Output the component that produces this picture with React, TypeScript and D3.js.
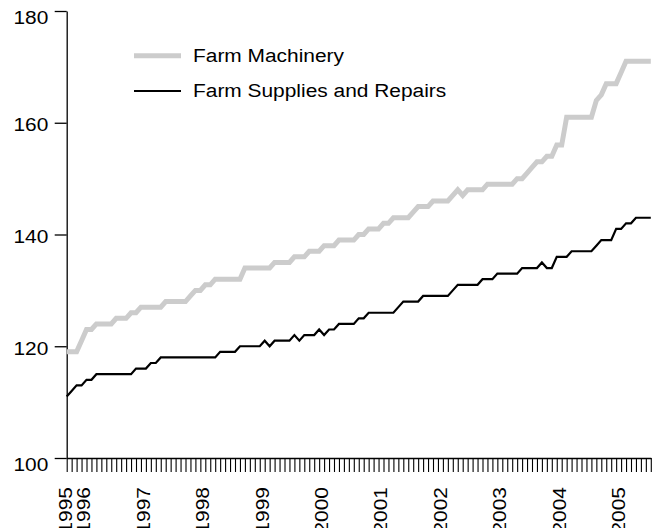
import React, { useEffect, useRef } from 'react';
import * as d3 from 'd3';

// monthly index values, Oct 1995 .. Aug 2005
const months = d3.timeMonth.range(new Date(1995, 9, 1), new Date(2005, 8, 1));

const machinery = [
  119, 119, 119, 121, 123, 123, 124, 124, 124, 124,
  125, 125, 125, 126, 126, 127, 127, 127, 127, 127,
  128, 128, 128, 128, 128, 129, 130, 130, 131, 131,
  132, 132, 132, 132, 132, 132, 134, 134, 134, 134,
  134, 134, 135, 135, 135, 135, 136, 136, 136, 137,
  137, 137, 138, 138, 138, 139, 139, 139, 139, 140,
  140, 141, 141, 141, 142, 142, 143, 143, 143, 143,
  144, 145, 145, 145, 146, 146, 146, 146, 147, 148,
  147, 148, 148, 148, 148, 149, 149, 149, 149, 149,
  149, 150, 150, 151, 152, 153, 153, 154, 154, 156,
  156, 161, 161, 161, 161, 161, 161, 164, 165, 167,
  167, 167, 169, 171, 171, 171, 171, 171, 171,
];

const supplies = [
  111, 112, 113, 113, 114, 114, 115, 115, 115, 115,
  115, 115, 115, 115, 116, 116, 116, 117, 117, 118,
  118, 118, 118, 118, 118, 118, 118, 118, 118, 118,
  118, 119, 119, 119, 119, 120, 120, 120, 120, 120,
  121, 120, 121, 121, 121, 121, 122, 121, 122, 122,
  122, 123, 122, 123, 123, 124, 124, 124, 124, 125,
  125, 126, 126, 126, 126, 126, 126, 127, 128, 128,
  128, 128, 129, 129, 129, 129, 129, 129, 130, 131,
  131, 131, 131, 131, 132, 132, 132, 133, 133, 133,
  133, 133, 134, 134, 134, 134, 135, 134, 134, 136,
  136, 136, 137, 137, 137, 137, 137, 138, 139, 139,
  139, 141, 141, 142, 142, 143, 143, 143, 143,
];

const yTicks = [100, 120, 140, 160, 180];
const seriesNames = ['Farm Machinery', 'Farm Supplies and Repairs'];
const seriesColors = ['#cccccc', '#000000'];
const seriesWidths = [5, 2.2];

const W = 659;
const H = 528;
const FONT = '"Liberation Sans", Arial, Helvetica, sans-serif';
const FS = 19;
const STRETCH = 1.1;

const App = () => {
  const svgRef = useRef<SVGSVGElement>(null);

  useEffect(() => {
    const svg = d3.select(svgRef.current);
    svg.selectAll('*').remove();

    const x = d3.scalePoint<number>()
      .domain(d3.range(months.length))
      .range([66.7, 650.8]);
    const y = d3.scaleLinear().domain([100, 180]).range([458, 11]);

    // y axis
    const yAxis = svg.append('g')
      .attr('transform', 'translate(66.7,0)')
      .call(d3.axisLeft(y).tickValues(yTicks).tickSize(12).tickSizeOuter(0).tickFormat(() => ''));
    yAxis.select('.domain').attr('stroke', '#000').attr('stroke-width', 1.3);
    yAxis.selectAll('.tick line').attr('stroke', '#000').attr('stroke-width', 1.3);

    yTicks.forEach((t, i) => {
      const off = i === 0 || i === yTicks.length - 1 ? 6.5 : 1.5;
      svg.append('text')
        .attr('transform', `translate(48.3,${y(t) + off}) scale(${STRETCH},1)`)
        .attr('text-anchor', 'end')
        .attr('dy', '0.36em')
        .attr('font-family', FONT)
        .attr('font-size', FS)
        .attr('fill', '#000')
        .text(String(t));
    });

    // x axis
    const xAxis = svg.append('g')
      .attr('transform', 'translate(0,458)')
      .call(d3.axisBottom(x).tickSize(14).tickSizeOuter(0).tickFormat(() => ''));
    xAxis.select('.domain').attr('stroke', '#000').attr('stroke-width', 1.3);
    xAxis.selectAll('.tick line').attr('stroke', '#000').attr('stroke-width', 1.1);

    months.forEach((m, i) => {
      if (i !== 0 && m.getMonth() !== 0) return;
      svg.append('text')
        .attr('transform', `translate(${x(i)},487) rotate(-90) scale(${STRETCH},1)`)
        .attr('text-anchor', 'end')
        .attr('dy', i === 0 ? '0.27em' : '0.47em')
        .attr('font-family', FONT)
        .attr('font-size', FS)
        .attr('fill', '#000')
        .text(String(m.getFullYear()));
    });

    // lines
    [machinery, supplies].forEach((vals, k) => {
      const line = d3.line<number>()
        .x((_, i) => x(i) as number)
        .y((d) => y(d));
      svg.append('path')
        .datum(vals)
        .attr('d', line)
        .attr('fill', 'none')
        .attr('stroke', seriesColors[k])
        .attr('stroke-width', seriesWidths[k])
        .attr('stroke-linejoin', 'miter');
    });

    // legend
    seriesNames.forEach((name, k) => {
      const ly = 55.7 + k * 35.3;
      svg.append('line')
        .attr('x1', 134).attr('x2', 181)
        .attr('y1', ly).attr('y2', ly)
        .attr('stroke', seriesColors[k])
        .attr('stroke-width', seriesWidths[k]);
      svg.append('text')
        .attr('transform', `translate(193,${ly + 6.3}) scale(${STRETCH},1)`)
        .attr('font-family', FONT)
        .attr('font-size', FS)
        .attr('fill', '#000')
        .text(name);
    });
  }, []);

  return (
    <div style={{ position: 'absolute', left: 0, top: 0, width: W, height: H, background: '#fff' }}>
      <svg ref={svgRef} width={W} height={H} style={{ display: 'block' }}></svg>
    </div>
  );
};

export default App;
